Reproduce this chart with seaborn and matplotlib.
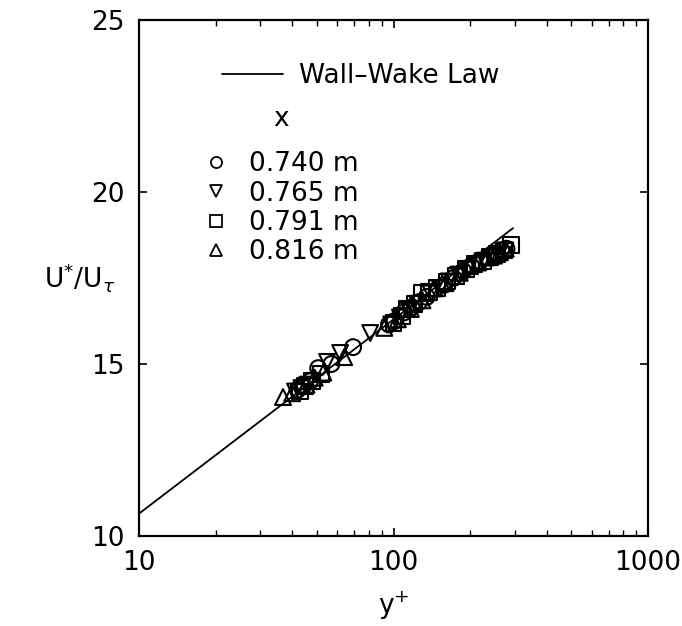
import matplotlib
matplotlib.use("Agg")
import matplotlib.pyplot as plt
import seaborn as sns
import pandas as pd
from matplotlib.lines import Line2D

sns.set_theme(style="ticks")
plt.rcParams["font.family"] = ["DejaVu Sans"]
plt.rcParams["mathtext.fontset"] = "dejavusans"
plt.rcParams["text.color"] = "black"
plt.rcParams["axes.labelcolor"] = "black"
plt.rcParams["xtick.color"] = "black"
plt.rcParams["ytick.color"] = "black"

# Wall-wake law line
law_x = [10, 295]
law_y = [10.65, 18.95]

# Measured data, x = 0.740 m (circles)
x740 = [42, 44, 47, 50.6, 57, 69.4, 96, 101, 110, 118, 126, 135, 158, 172, 188, 202, 218, 235, 250, 265, 278]
u740 = [14.25, 14.35, 14.5, 14.88, 15.0, 15.49, 16.15, 16.25, 16.5, 16.65, 16.8, 16.95, 17.3, 17.5, 17.7, 17.85, 18.0, 18.1, 18.2, 18.3, 18.35]
# x = 0.765 m (down triangles)
x765 = [41, 43.5, 46, 54.8, 61.7, 81, 98, 106, 115, 124, 140, 152, 165, 180, 196, 212, 228, 244, 260, 275]
u765 = [14.2, 14.3, 14.4, 15.06, 15.32, 15.9, 16.15, 16.35, 16.55, 16.75, 17.05, 17.2, 17.4, 17.6, 17.75, 17.9, 18.0, 18.1, 18.2, 18.3]
# x = 0.791 m (squares)
x791 = [43, 45, 48, 52, 100, 108, 113, 121, 129, 138, 148, 162, 176, 192, 208, 224, 240, 256, 272, 290]
u791 = [14.2, 14.35, 14.5, 14.7, 16.2, 16.4, 16.6, 16.75, 17.06, 17.1, 17.2, 17.4, 17.55, 17.75, 17.9, 18.0, 18.1, 18.2, 18.3, 18.45]
# x = 0.816 m (up triangles)
x816 = [36.8, 40, 45.5, 49, 53, 64, 92, 104, 117, 130, 145, 160, 182, 200, 215, 232, 248, 262, 276]
u816 = [14.04, 14.15, 14.4, 14.6, 14.75, 15.2, 16.05, 16.3, 16.6, 16.85, 17.2, 17.35, 17.65, 17.85, 17.95, 18.1, 18.15, 18.25, 18.35]

series_labels = ["0.740 m", "0.765 m", "0.791 m", "0.816 m"]
series_markers = ["o", "v", "s", "^"]
series_x = [x740, x765, x791, x816]
series_y = [u740, u765, u791, u816]

x_ticks = [10, 100, 1000]
x_ticklabels = ["10", "100", "1000"]
y_ticks = [10, 15, 20, 25]

FS = 19

fig = plt.figure(figsize=(6.82, 6.26), dpi=100)
ax = fig.add_axes([139/682, 1-536/626, (648-139)/682, (536-20)/626])

law_df = pd.DataFrame({"x": law_x, "y": law_y})
sns.lineplot(data=law_df, x="x", y="y", ax=ax, color="black", lw=1.3, legend=False)

for xs, ys, m in zip(series_x, series_y, series_markers):
    df = pd.DataFrame({"x": xs, "y": ys})
    sns.scatterplot(data=df, x="x", y="y", ax=ax, marker=m, s=130,
                    facecolors="none", edgecolors="black", linewidths=1.5,
                    legend=False, zorder=3)

ax.set_xscale("log")
ax.set_xlim(10, 1000)
ax.set_ylim(10, 25)
ax.set_xticks(x_ticks)
ax.set_xticklabels(x_ticklabels)
ax.set_yticks(y_ticks)
ax.tick_params(axis="both", which="major", direction="in", length=6, width=1.2,
               labelsize=FS, top=True, right=True, colors="black", pad=10)
ax.tick_params(axis="x", which="minor", direction="in", length=4, width=1.0,
               top=True, bottom=True)
for sp in ax.spines.values():
    sp.set_linewidth(1.6)
    sp.set_color("black")

ax.set_xlabel(r"$\mathrm{y}^{+}$", fontsize=FS, labelpad=10)
ax.set_ylabel(r"$\mathrm{U}^{*}/\mathrm{U}_{\tau}$", fontsize=FS, rotation=0)
ax.yaxis.label.set_ha("center")
ax.yaxis.label.set_va("center")
ax.yaxis.set_label_coords((80-139)/509, 1-(278-20)/516)

# Legend 1: line
h_line = Line2D([], [], color="black", lw=1.3)
leg1 = ax.legend([h_line], ["Wall\u2013Wake Law"], loc="upper left",
                 bbox_to_anchor=((222-139)/509, 1-(63-20)/516), frameon=False,
                 fontsize=FS, handlelength=2.3, handletextpad=0.6,
                 borderpad=0, borderaxespad=0)
ax.add_artist(leg1)

# Legend 2: markers
handles = [Line2D([], [], ls="none", marker=m, markersize=8, markerfacecolor="none",
                  markeredgecolor="black", markeredgewidth=1.3) for m in series_markers]
leg2 = ax.legend(handles, series_labels, loc="upper left", title="x",
                 bbox_to_anchor=((203-139)/509, 1-(106-20)/516), frameon=False,
                 fontsize=FS, title_fontsize=FS, handlelength=1.0,
                 handletextpad=0.75, labelspacing=0.12, borderpad=0,
                 borderaxespad=0)
leg2._legend_box.sep = 14

fig.savefig("out.png", dpi=100)
